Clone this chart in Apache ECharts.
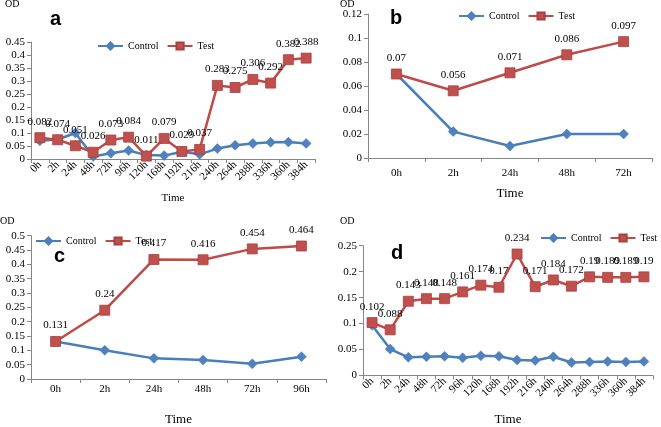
<!DOCTYPE html>
<html>
<head>
<meta charset="utf-8">
<script src="https://cdn.jsdelivr.net/npm/echarts@6/dist/echarts.min.js"></script>
<style>
html,body{margin:0;padding:0;background:#fff;}
#chart{width:661px;height:427px;}
</style>
</head>
<body>
<div id="chart"></div>
<script>
// ---- Data ----
var catsA = ['0h','2h','24h','48h','72h','96h','120h','168h','192h','216h','240h','264h','288h','336h','360h','384h'];
var controlA = [0.07,0.075,0.1,0.01,0.022,0.033,0.015,0.013,0.028,0.018,0.04,0.053,0.06,0.064,0.065,0.06];
var testA = [0.082,0.074,0.051,0.026,0.073,0.084,0.011,0.079,0.029,0.037,0.283,0.275,0.306,0.292,0.382,0.388];

var catsB = ['0h','2h','24h','48h','72h'];
var controlB = [0.07,0.022,0.01,0.02,0.02];
var testB = [0.07,0.056,0.071,0.086,0.097];

var catsC = ['0h','2h','24h','48h','72h','96h'];
var controlC = [0.131,0.1,0.072,0.066,0.053,0.078];
var testC = [0.131,0.24,0.417,0.416,0.454,0.464];

var catsD = ['0h','2h','24h','48h','72h','96h','120h','168h','192h','216h','240h','264h','288h','336h','360h','384h'];
var controlD = [0.097,0.051,0.035,0.036,0.037,0.034,0.038,0.037,0.03,0.029,0.036,0.025,0.026,0.027,0.026,0.027];
var testD = [0.102,0.088,0.143,0.148,0.148,0.161,0.174,0.17,0.234,0.171,0.184,0.172,0.19,0.189,0.189,0.19];

var panelLetters = ['a','b','c','d'];
var yLabel = 'OD';
var xLabel = 'Time';
var seriesNames = ['Control','Test'];

// ---- Styling ----
var SERIF = '"Liberation Serif","Times New Roman",serif';
var BLUE_LINE = '#4A7EBB', BLUE_MK = '#4F81BD';
var RED_LINE = '#BE4B48', RED_MK = '#C0504D';
var AXIS = '#868686';

var grids = [
  {left:31, top:42, width:284, height:117},
  {left:368, top:14, width:284, height:144},
  {left:31, top:235.7, width:295, height:147},
  {left:363, top:245.7, width:290, height:133.6}
];
var yCfg = [
  {max:0.45, interval:0.05},
  {max:0.12, interval:0.02},
  {max:0.5, interval:0.05},
  {max:0.25, interval:0.05}
];
var cats = [catsA, catsB, catsC, catsD];
var ctrl = [controlA, controlB, controlC, controlD];
var tst = [testA, testB, testC, testD];
var rot = [45, 0, 0, 45];
var xMargin = [4, 10, 5, 4];
var nameGaps = [34, 29, 34, 37.5];
var nameSizes = [11, 13, 13, 13];
var legendPos = [
  {left:97, top:41},
  {left:458, top:11},
  {left:35, top:236},
  {left:540, top:233}
];

var xAxes = [], yAxes = [], series = [], legends = [];
for (var i = 0; i < 4; i++) {
  xAxes.push({
    type:'category', gridIndex:i, data:cats[i], boundaryGap:true,
    name:xLabel, nameLocation:'middle', nameGap:nameGaps[i],
    nameTextStyle:{fontFamily:SERIF, fontSize:nameSizes[i], color:'#000'},
    axisLine:{lineStyle:{color:AXIS, width:1}},
    axisTick:{show:true, alignWithLabel:false, length:4, lineStyle:{color:AXIS}},
    axisLabel:{rotate:rot[i], margin:xMargin[i], fontFamily:SERIF, fontSize:11, color:'#000', interval:0},
    splitLine:{show:false}
  });
  yAxes.push({
    type:'value', gridIndex:i, min:0, max:yCfg[i].max, interval:yCfg[i].interval,
    axisLine:{show:true, lineStyle:{color:AXIS, width:1}},
    axisTick:{show:true, length:4, lineStyle:{color:AXIS}},
    axisLabel:{margin:6, fontFamily:SERIF, fontSize:11, color:'#000'},
    splitLine:{show:false}
  });
  series.push({
    name:seriesNames[0], type:'line', xAxisIndex:i, yAxisIndex:i, data:ctrl[i],
    symbol:'diamond', symbolSize:10,
    lineStyle:{color:BLUE_LINE, width:2.5},
    itemStyle:{color:BLUE_MK, borderColor:BLUE_LINE, borderWidth:0.5},
    label:{show:false}, animation:false, z:2
  });
  series.push({
    name:seriesNames[1], type:'line', xAxisIndex:i, yAxisIndex:i, data:tst[i],
    symbol:'rect', symbolSize:10,
    lineStyle:{color:RED_LINE, width:2.5},
    itemStyle:{color:RED_MK, borderColor:'#A8403D', borderWidth:0.8},
    label:{show:true, position:'top', distance:5, fontFamily:SERIF, fontSize:11, color:'#000'},
    animation:false, z:3
  });
  legends.push({
    left:legendPos[i].left, top:legendPos[i].top, padding:0, width:125,
    itemWidth:25, itemHeight:9, itemGap:8,
    data:seriesNames,
    textStyle:{fontFamily:SERIF, fontSize:10, color:'#000'}
  });
}

var LETTER_FONT = 'bold 20px "Liberation Sans",Arial,sans-serif';
var OD_FONT = '10px ' + SERIF;
var graphics = [
  {type:'text', left:5, top:-1, style:{text:yLabel, font:OD_FONT, fill:'#000'}},
  {type:'text', left:340, top:-1, style:{text:yLabel, font:OD_FONT, fill:'#000'}},
  {type:'text', left:0, top:216, style:{text:yLabel, font:OD_FONT, fill:'#000'}},
  {type:'text', left:340, top:216, style:{text:yLabel, font:OD_FONT, fill:'#000'}},
  {type:'text', left:50, top:9, style:{text:panelLetters[0], font:LETTER_FONT, fill:'#000'}},
  {type:'text', left:390, top:8, style:{text:panelLetters[1], font:LETTER_FONT, fill:'#000'}},
  {type:'text', left:54, top:246, style:{text:panelLetters[2], font:LETTER_FONT, fill:'#000'}},
  {type:'text', left:391, top:243, style:{text:panelLetters[3], font:LETTER_FONT, fill:'#000'}}
];

var chart = echarts.init(document.getElementById('chart'), null, {renderer:'canvas'});
chart.setOption({
  backgroundColor:'#fff',
  animation:false,
  grid:grids,
  xAxis:xAxes,
  yAxis:yAxes,
  legend:legends,
  series:series,
  graphic:graphics
});
</script>
</body>
</html>
